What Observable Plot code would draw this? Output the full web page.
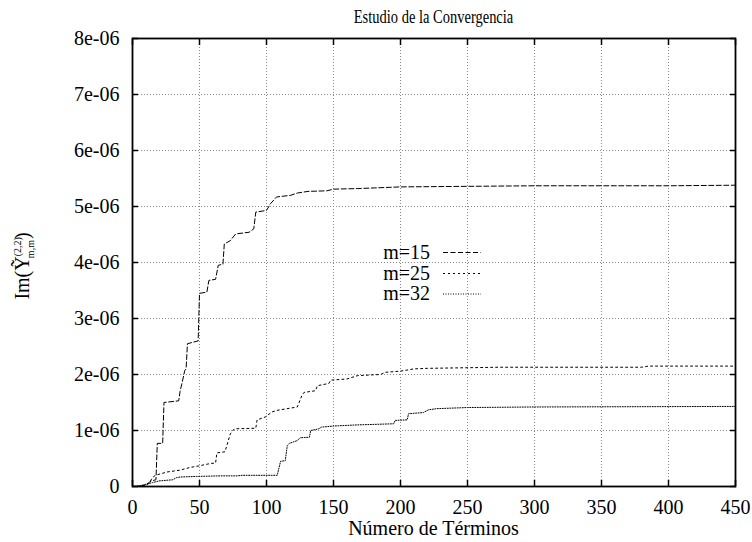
<!DOCTYPE html>
<html>
<head>
<meta charset="utf-8">
<script src="https://cdn.jsdelivr.net/npm/d3@7"></script>
<script src="https://cdn.jsdelivr.net/npm/@observablehq/plot@0.6"></script>
<style>
  body { margin: 0; background: #fff; }
  #chart { width: 752px; height: 542px; }
  #chart svg, #chart svg text { font-family: "Liberation Serif", "Times New Roman", serif !important; }
</style>
</head>
<body>
<div id="chart"></div>
<script>
// ---- data (values in units of 1e-06) ----
const seriesNames = ["m=15", "m=25", "m=32"];

const terms15 = [0,5,10,14,17.5,18.5,22.5,23.5,34.5,35.5,37,39,40,41,49,50,55.5,57,62,64,67.5,68.5,73,77,87,90.5,92,100,103,107.5,118,123,131,145,150,168,200,250,300,400,450];
const values15 = [0,0,0.03,0.1,0.12,0.77,0.77,1.5,1.53,1.7,1.85,2.07,2.1,2.55,2.6,3.45,3.47,3.68,3.7,3.95,3.97,4.33,4.39,4.51,4.54,4.6,4.9,4.93,5.05,5.17,5.2,5.24,5.27,5.28,5.31,5.32,5.35,5.36,5.37,5.37,5.38];

const terms25 = [0,8,12,15,17,26,35,43,50,58,62,63,69,73,76,92,93,99,104,108,123,126.5,128,136.5,138,146.5,148,160,168,185,189,200,210,220,275,380,385,450];
const values25 = [0,0.01,0.05,0.16,0.2,0.26,0.29,0.34,0.37,0.41,0.42,0.6,0.62,0.94,1.03,1.04,1.19,1.24,1.33,1.36,1.42,1.63,1.68,1.71,1.8,1.84,1.9,1.92,1.98,2.0,2.04,2.06,2.1,2.11,2.13,2.13,2.15,2.15];

const terms32 = [0,5,10,15,20,30,33,36,48,66,78,82,108,109,110.5,114,115.5,117,123,125,132,133,139,141,150,168,195,196,205,206,217,221,227,250,300,450];
const values32 = [0,0.01,0.04,0.07,0.1,0.12,0.16,0.17,0.18,0.19,0.19,0.2,0.2,0.3,0.45,0.46,0.73,0.77,0.82,0.87,0.88,1.0,1.03,1.06,1.08,1.1,1.12,1.18,1.19,1.3,1.32,1.37,1.39,1.41,1.42,1.43];

const xTicks = [0,50,100,150,200,250,300,350,400,450];
const yTicks = [0,1,2,3,4,5,6,7,8];
const yTickLabels = ["0","1e-06","2e-06","3e-06","4e-06","5e-06","6e-06","7e-06","8e-06"];

const titleText = "Estudio de la Convergencia";
const xLabelText = "Número de Términos";

// ---- build rows ----
const rows = (terms, values, name) => terms.map((n, i) => ({n, v: values[i], series: name}));
const data15 = rows(terms15, values15, seriesNames[0]);
const data25 = rows(terms25, values25, seriesNames[1]);
const data32 = rows(terms32, values32, seriesNames[2]);

const dashes = {"m=15": "5,2.5", "m=25": "2,3", "m=32": "1,1.5"};
const FONT = "Liberation Serif";

const W = 752, H = 542;
const mL = 132, mR = 17, mT = 38, mB = 56;

const chart = Plot.plot({
  width: W,
  height: H,
  marginLeft: mL,
  marginRight: mR,
  marginTop: mT,
  marginBottom: mB,
  style: {fontFamily: FONT, fontSize: "20px", background: "white", color: "black"},
  x: {domain: [0, 450], label: null},
  y: {domain: [0, 8], label: null},
  marks: [
    Plot.gridX(xTicks, {stroke: "#888", strokeOpacity: 1, strokeDasharray: "1,2", strokeWidth: 1}),
    Plot.gridY(yTicks, {stroke: "#888", strokeOpacity: 1, strokeDasharray: "1,2", strokeWidth: 1}),
    Plot.line(data32, {x: "n", y: "v", stroke: "black", strokeWidth: 1, strokeDasharray: dashes["m=32"]}),
    Plot.line(data25, {x: "n", y: "v", stroke: "black", strokeWidth: 1, strokeDasharray: dashes["m=25"]}),
    Plot.line(data15, {x: "n", y: "v", stroke: "black", strokeWidth: 1, strokeDasharray: dashes["m=15"]}),
    Plot.frame({stroke: "black", strokeWidth: 1.8}),
    Plot.axisX(xTicks, {anchor: "bottom", tickSize: -6, tickPadding: 19, fontSize: 20, fontFamily: FONT, label: null, strokeWidth: 1.5}),
    Plot.axisX(xTicks, {anchor: "top", tickSize: -6, tickFormat: () => "", label: null, strokeWidth: 1.5}),
    Plot.axisY(yTicks, {anchor: "left", tickSize: -6, tickPadding: 19, fontSize: 20, fontFamily: FONT, label: null, strokeWidth: 1.5,
      tickFormat: d => yTickLabels[yTicks.indexOf(d)]}),
    Plot.axisY(yTicks, {anchor: "right", tickSize: -6, tickFormat: () => "", label: null, strokeWidth: 1.5})
  ]
});

document.getElementById("chart").appendChild(chart);

// ---- annotations: title, axis labels, legend ----
const svg = d3.select(chart);
const cx = mL + (W - mL - mR) / 2;

svg.append("text")
  .attr("transform", `translate(${cx},23) scale(1,1.25)`)
  .attr("text-anchor", "middle")
  .style("font-family", FONT).style("font-size", "14.5px")
  .attr("fill", "black")
  .text(titleText);

svg.append("text")
  .attr("x", cx).attr("y", 535)
  .attr("text-anchor", "middle")
  .style("font-family", FONT).style("font-size", "20px")
  .attr("fill", "black")
  .text(xLabelText);

const yl = svg.append("text")
  .attr("transform", "translate(29,266) rotate(-90)")
  .attr("text-anchor", "middle")
  .style("font-family", FONT).style("font-size", "20px")
  .attr("fill", "black");
yl.append("tspan").text("Im(Ỹ");
yl.append("tspan").attr("dy", -8).style("font-size", "10px").text("(2,2)");
yl.append("tspan").attr("dx", -21).attr("dy", 13).style("font-size", "10px").text("m,m");
yl.append("tspan").attr("dx", 1).attr("dy", -5).text(")");

const legendY = [252.5, 273.5, 294];
seriesNames.forEach((name, i) => {
  svg.append("text")
    .attr("x", 430).attr("y", legendY[i] + 6)
    .attr("text-anchor", "end")
    .style("font-family", FONT).style("font-size", "20px")
    .attr("fill", "black")
    .text(name);
  svg.append("line")
    .attr("x1", 443).attr("x2", 481)
    .attr("y1", legendY[i]).attr("y2", legendY[i])
    .attr("stroke", "black").attr("stroke-width", 1)
    .attr("stroke-dasharray", dashes[name]);
});
</script>
</body>
</html>
